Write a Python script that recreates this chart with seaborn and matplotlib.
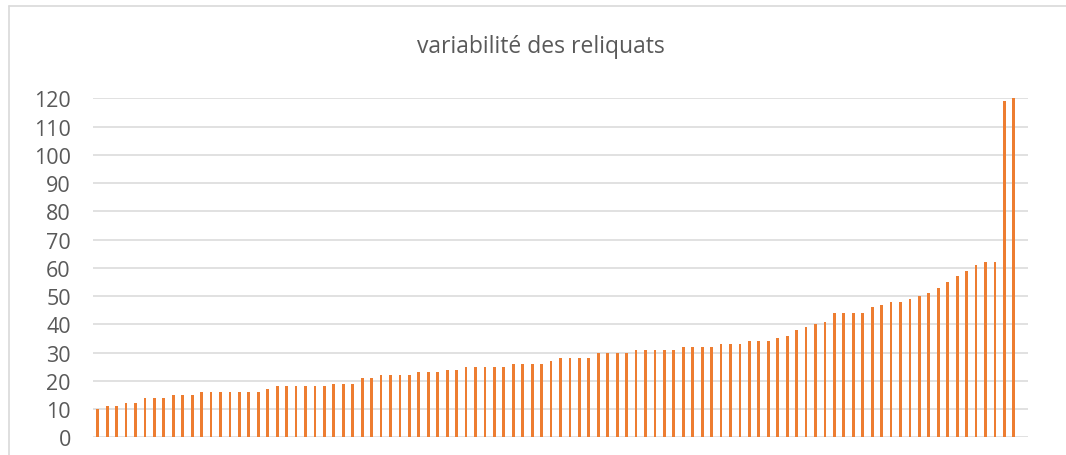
import matplotlib

matplotlib.use("Agg")
import matplotlib.pyplot as plt
import numpy as np
import pandas as pd
import seaborn as sns
from matplotlib.lines import Line2D

sns.set_style("white")
plt.rcParams["font.family"] = ["Open Sans", "DejaVu Sans"]

# sorted residual values, one bar per sample
reliquats = [
    10, 11, 11, 12, 12, 14, 14, 14, 15, 15, 15,
    16, 16, 16, 16, 16, 16, 16, 17,
    18, 18, 18, 18, 18, 18, 19, 19, 19, 21, 21,
    22, 22, 22, 22, 23, 23, 23, 24, 24,
    25, 25, 25, 25, 25, 26, 26, 26, 26, 27,
    28, 28, 28, 28, 30, 30, 30, 30,
    31, 31, 31, 31, 31, 32, 32, 32, 32,
    33, 33, 33, 34, 34, 34, 35, 36, 38, 39, 40, 41,
    44, 44, 44, 44, 46, 47, 48, 48, 49, 50, 51,
    53, 55, 57, 59, 61, 62, 62, 119, 120,
]
y_ticks = list(range(0, 121, 10))

df = pd.DataFrame({"rang": np.arange(len(reliquats)), "reliquat": reliquats})

grey_text = "#595959"
grid_col = "#d9d9d9"

fig = plt.figure(figsize=(10.66, 4.56), dpi=100)
ax = fig.add_axes([93 / 1066, 17.7 / 456, 935 / 1066, 338.9 / 456])

sns.barplot(data=df, x="rang", y="reliquat", color="#ED7D31", width=0.3,
            saturation=1, linewidth=0, ax=ax, zorder=3)

# Excel leaves one empty category slot at the right end
ax.set_xlim(-0.5, len(reliquats) + 0.5)
ax.set_ylim(0, 120)
ax.set_yticks(y_ticks)
ax.set_yticklabels([str(t) for t in y_ticks])
ax.set_xticks([])
ax.set_xlabel("")
ax.set_ylabel("")
ax.yaxis.grid(True, color=grid_col, linewidth=1.1, zorder=0)
ax.set_axisbelow(True)
ax.tick_params(axis="y", length=0, pad=16, labelsize=15.5, labelcolor=grey_text)
for s in ax.spines.values():
    s.set_visible(False)

fig.text(541 / 1066, 1 - 47 / 456, "variabilité des reliquats", ha="center",
         va="center", fontsize=16.5, color=grey_text)

# chart area frame (left and top edges visible)
fig.add_artist(Line2D([9 / 1066, 9 / 1066], [0, 1 - 7 / 456], color=grid_col, lw=1.2,
                      transform=fig.transFigure))
fig.add_artist(Line2D([9 / 1066, 1], [1 - 7 / 456, 1 - 7 / 456], color=grid_col, lw=1.2,
                      transform=fig.transFigure))

fig.savefig("out.png", dpi=100)
